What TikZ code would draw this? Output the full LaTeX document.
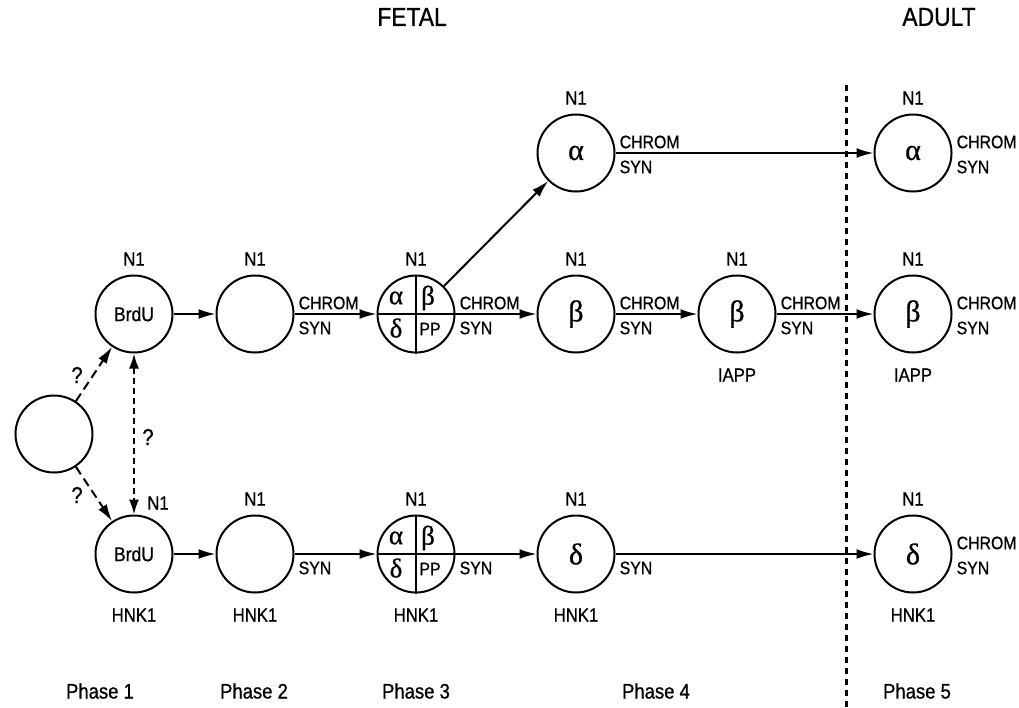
\documentclass[tikz,border=0pt]{standalone}
\usepackage{fontspec}
\setmainfont{Liberation Sans}[FakeStretch=0.88,FakeBold=0.8]
\newfontfamily\grk{Liberation Serif}[FakeBold=0.8]
\usetikzlibrary{arrows.meta,calc}
\newcommand\chsy[1]{%
  \node[lbl,anchor=west] (#1c) at ($(#1.east)+(4,-11)$) {CHROM};
  \node[lbl,anchor=west] (#1s) at ($(#1.east)+(4,14)$) {SYN};}
\newcommand\sylab[1]{%
  \node[lbl,anchor=west] (#1s) at ($(#1.east)+(4,14)$) {SYN};}
\newcommand\nonelab[1]{\node[lab] (#1n) at ($(#1)+(0,-55)$) {N1};}
\newcommand\hnklab[1]{\node[lab] (#1h) at ($(#1)+(0,61)$) {HNK1};}
\newcommand\quadcell[2]{%
  \node[cell] (#1) at #2 {};
  \draw[line width=2pt] (#1.north) -- (#1.south);
  \draw[line width=2pt] (#1.west) -- (#1.east);
  \node[qg] (#1a) at ($(#1)+(-20,-16)$) {α};
  \node[qg] (#1b) at ($(#1)+(12,-16)$) {β};
  \node[qg] (#1d) at ($(#1)+(-20,14)$) {δ};
  \node[pp] (#1p) at ($(#1)+(14,15)$) {PP};}
\begin{document}
\begin{tikzpicture}[x=1pt,y=-1pt,
  cell/.style={circle,draw,line width=2pt,minimum size=77pt,inner sep=0pt,font=\fontsize{20}{22}\selectfont},
  gk/.style={font=\grk\fontsize{30}{32}\selectfont},
  qg/.style={font=\grk\fontsize{27}{29}\selectfont,inner sep=0pt},
  pp/.style={font=\fontsize{18}{20}\selectfont,inner sep=0pt},
  lbl/.style={font=\fontsize{18}{20}\selectfont,inner sep=0pt},
  lab/.style={font=\fontsize{19}{21}\selectfont,inner sep=0pt},
  qm/.style={font=\fontsize{23}{25}\selectfont,inner sep=0pt},
  head/.style={font=\fontsize{26}{28}\selectfont,inner sep=0pt},
  phase/.style={font=\fontsize{21}{23}\selectfont,inner sep=0pt},
  flow/.style={-{Latex[length=17pt,width=10pt]},line width=2pt},
  qflow/.style={flow,dash pattern=on 9pt off 5pt},
  qqflow/.style={{Latex[length=15pt,width=10pt]}-{Latex[length=15pt,width=10pt]},line width=2pt,dash pattern=on 6pt off 4pt},
  divider/.style={line width=3pt,dash pattern=on 6pt off 5pt}]
\useasboundingbox (0,0) rectangle (1019,707);

% headings
\node[head] (fetal) at (412,17) {FETAL};
\node[head] (adult) at (939,17) {ADULT};

% divider
\coordinate (dtop) at (846,85);
\coordinate (dbot) at (846,707);
\draw[divider] (dtop) -- (dbot);

% left progenitor
\node[cell] (p0) at (54,434) {};

% middle row
\node[cell] (m1) at (134,314) {BrdU};
\node[cell] (m2) at (255,314) {};
\quadcell{m3}{(416,314)}
\node[cell,gk] (m4) at (576,314) {β};
\node[cell,gk] (m5) at (737,314) {β};
\node[cell,gk] (m6) at (913,314) {β};

% top row
\node[cell,gk] (t4) at (576,153) {α};
\node[cell,gk] (t6) at (913,153) {α};

% bottom row
\node[cell] (b1) at (134,554) {BrdU};
\node[cell] (b2) at (255,554) {};
\quadcell{b3}{(416,554)}
\node[cell,gk] (b4) at (576,554) {δ};
\node[cell,gk] (b6) at (913,554) {δ};

% N1 labels
\nonelab{t4}\nonelab{t6}
\nonelab{m1}\nonelab{m2}\nonelab{m3}\nonelab{m4}\nonelab{m5}\nonelab{m6}
\node[lab] (b1n) at (158,503) {N1};
\nonelab{b2}\nonelab{b3}\nonelab{b4}\nonelab{b6}

% HNK1 and IAPP labels
\hnklab{b1}\hnklab{b2}\hnklab{b3}\hnklab{b4}\hnklab{b6}
\node[lab] (m5i) at ($(m5)+(0,61)$) {IAPP};
\node[lab] (m6i) at ($(m6)+(0,61)$) {IAPP};

% CHROM / SYN labels
\chsy{t4}\chsy{t6}
\chsy{m2}\chsy{m3}\chsy{m4}\chsy{m5}\chsy{m6}
\sylab{b2}\sylab{b3}\sylab{b4}
\chsy{b6}

% arrows
\draw[flow] (m1) -- (m2);
\draw[flow] (m2) -- (m3);
\draw[flow] (m3.east) -- (m4);
\draw[flow] (m4) -- (m5);
\draw[flow] (m5) -- (m6);
\draw[flow] (m3.45) -- (t4);
\draw[flow] (t4) -- (t6);
\draw[flow] (b1) -- (b2);
\draw[flow] (b2) -- (b3);
\draw[flow] (b3.east) -- (b4);
\draw[flow] (b4) -- (b6);

% dashed uncertain arrows
\draw[qflow] (p0) -- (m1);
\draw[qflow] (p0) -- (b1);
\draw[qqflow] (m1) -- (b1);
\node[qm] (q1) at (77,375) {?};
\node[qm] (q2) at (148,437) {?};
\node[qm] (q3) at (77,495) {?};

% phases
\node[phase] (ph1) at (100,691) {Phase 1};
\node[phase] (ph2) at (254,691) {Phase 2};
\node[phase] (ph3) at (416,691) {Phase 3};
\node[phase] (ph4) at (656,691) {Phase 4};
\node[phase] (ph5) at (917,691) {Phase 5};
\end{tikzpicture}
\end{document}
